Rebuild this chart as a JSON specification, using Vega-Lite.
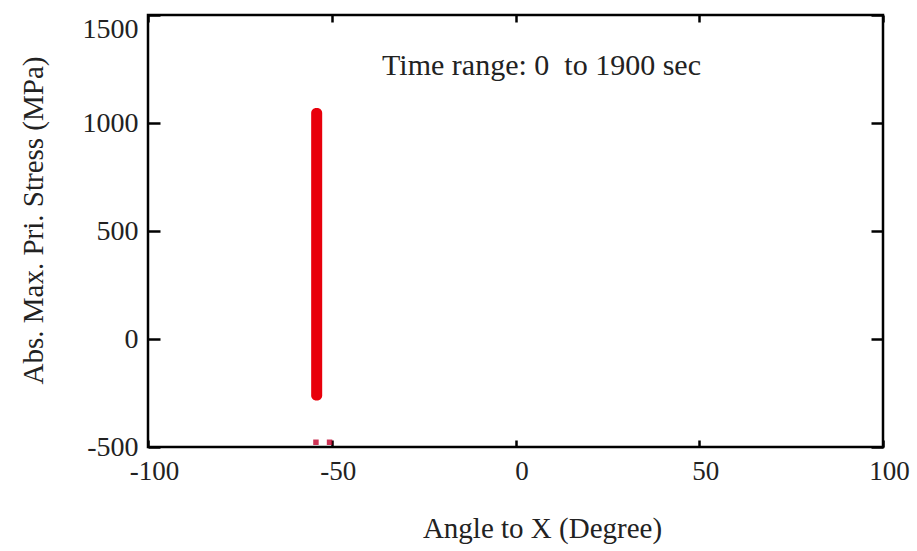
{
  "$schema": "https://vega.github.io/schema/vega-lite/v6.json",
  "autosize": {"type": "none"},
  "width": 735,
  "height": 432,
  "padding": {"left": 148, "top": 15, "right": 34, "bottom": 104},
  "background": "white",
  "config": {
    "view": {"stroke": "black", "strokeWidth": 2.5},
    "font": "Liberation Serif",
    "axis": {"grid": false, "domain": false, "labelFont": "Liberation Serif", "titleFont": "Liberation Serif", "labelColor": "#222", "titleColor": "#222", "titleFontWeight": "normal", "tickColor": "black", "tickWidth": 2.5}
  },
  "layer": [
    {
      "data": {"values": [{"angle_lo": -55.6, "angle_hi": -52.6, "stress_lo": -285, "stress_hi": 1070}]},
      "mark": {"type": "rect", "color": "#e8000b", "cornerRadius": 5},
      "encoding": {
        "x": {"field": "angle_lo", "type": "quantitative", "scale": {"domain": [-100, 100], "nice": false},
          "axis": {"orient": "bottom", "values": [-100, -50, 0, 50, 100], "labelExpr": "'' + datum.value", "tickSize": -7, "labelFontSize": 27, "labelPadding": 18, "labelOffset": 6, "labelFlush": false,
            "title": "Angle to X (Degree)", "titleFontSize": 29, "titleX": 394, "titleY": 90, "titleBaseline": "alphabetic", "titleAnchor": null, "titleAlign": "center"}},
        "x2": {"field": "angle_hi"},
        "y": {"field": "stress_lo", "type": "quantitative", "scale": {"domain": [-500, 1500], "nice": false},
          "axis": {"orient": "left", "values": [-500, 0, 500, 1000, 1500], "labelExpr": "'' + datum.value", "tickSize": -12, "labelFontSize": 28, "labelPadding": 22, "labelFlush": false,
            "labelBaseline": {"condition": {"test": "datum.value == 1500", "value": "top"}, "value": "middle"},
            "title": "Abs. Max. Pri. Stress (MPa)", "titleFontSize": 29, "titleAngle": -90, "titleX": -106, "titleY": 205, "titleBaseline": "alphabetic", "titleAlign": "center", "titleAnchor": null}},
        "y2": {"field": "stress_hi"}
      }
    },
    {
      "data": {"values": [{"angle": -54.3, "stress": -478}, {"angle": -50.6, "stress": -478}]},
      "mark": {"type": "square", "color": "#c0002a", "size": 30, "opacity": 0.8},
      "encoding": {
        "x": {"field": "angle", "type": "quantitative", "axis": null},
        "y": {"field": "stress", "type": "quantitative", "axis": null}
      }
    },
    {
      "data": {"values": [{"angle": 0, "stress": 0}]},
      "mark": {"type": "point", "opacity": 0},
      "encoding": {
        "x": {"field": "angle", "type": "quantitative", "axis": {"orient": "top", "values": [-100, -50, 0, 50, 100], "tickSize": -7, "labels": false, "title": null}},
        "y": {"field": "stress", "type": "quantitative", "axis": {"orient": "right", "values": [-500, 0, 500, 1000, 1500], "tickSize": -12, "labels": false, "title": null}}
      }
    },
    {
      "data": {"values": [{"angle": -36.3, "stress": 1265, "label": "Time range: 0\u00a0 to 1900 sec"}]},
      "mark": {"type": "text", "align": "left", "baseline": "middle", "fontSize": 30, "font": "Liberation Serif", "color": "#222"},
      "encoding": {
        "x": {"field": "angle", "type": "quantitative", "axis": null},
        "y": {"field": "stress", "type": "quantitative", "axis": null},
        "text": {"field": "label"}
      }
    }
  ],
  "resolve": {"axis": {"x": "independent", "y": "independent"}}
}
